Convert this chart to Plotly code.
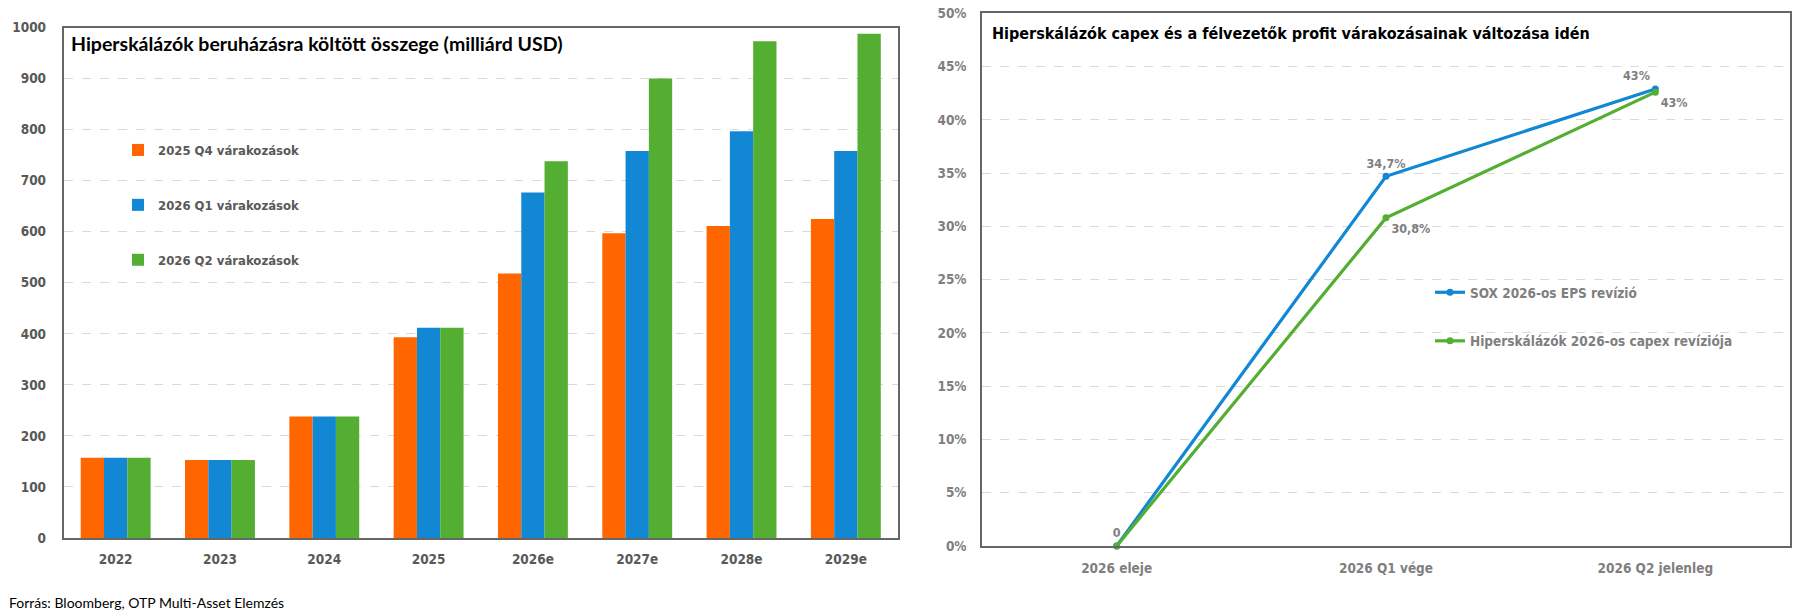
import plotly.graph_objects as go

# ---------------- data ----------------
categories = ["2022", "2023", "2024", "2025", "2026e", "2027e", "2028e", "2029e"]
exp_2025_q4 = [157, 153, 238, 393, 518, 597, 611, 625]
exp_2026_q1 = [157, 153, 238, 412, 677, 758, 797, 758]
exp_2026_q2 = [157, 153, 238, 412, 738, 900, 973, 988]
bar_names = ["2025 Q4 várakozások", "2026 Q1 várakozások", "2026 Q2 várakozások"]

line_categories = ["2026 eleje", "2026 Q1 vége", "2026 Q2 jelenleg"]
sox_eps_rev = [0, 34.7, 42.9]
capex_rev = [0, 30.8, 42.6]
sox_labels = ["0", "34,7%", "43%"]
capex_labels = ["", "30,8%", "43%"]
line_names = ["SOX 2026-os EPS revízió", "Hiperskálázók 2026-os capex revíziója"]

pct_ticks = [0, 5, 10, 15, 20, 25, 30, 35, 40, 45, 50]
pct_ticktext = [f"{v}%" for v in pct_ticks]

# ---------------- style ----------------
W, H = 1801, 612
ORANGE, BLUE, GREEN = "#FF6600", "#1287D4", "#53AE32"
GREY = "#595959"
LIGHT_GREY = "#7F7F7F"
NARROW = "Liberation Sans Narrow, DejaVu Sans Condensed, Arial Narrow, Roboto, sans-serif"
TITLE_FONT = "Lato, Open Sans, sans-serif"


def px_x(p):
    return p / W


def px_y(p):
    return (H - p) / H


fig = go.Figure()

for name, vals, col, grp in zip(bar_names, [exp_2025_q4, exp_2026_q1, exp_2026_q2],
                                [ORANGE, BLUE, GREEN], ["a", "b", "c"]):
    fig.add_trace(go.Bar(x=categories, y=vals, name=name, marker_color=col,
                         marker_line_width=0, xaxis="x", yaxis="y",
                         legend="legend", legendgroup=grp))

for name, vals, txt, col, pos, grp in zip(
        line_names, [sox_eps_rev, capex_rev], [sox_labels, capex_labels],
        [BLUE, GREEN],
        [["top center", "top center", "top left"],
         ["bottom center", "bottom right", "bottom right"]],
        ["d", "e"]):
    fig.add_trace(go.Scatter(x=line_categories, y=vals, name=name,
                             mode="lines+markers+text", text=txt, textposition=pos,
                             textfont=dict(family=NARROW, size=12.5, color=LIGHT_GREY,
                                           weight="bold"),
                             line=dict(color=col, width=3.2),
                             marker=dict(color=col, size=7),
                             xaxis="x2", yaxis="y2", legend="legend2",
                             legendgroup=grp, cliponaxis=False))

axis_common = dict(showline=True, linecolor="#666666", linewidth=1.5, mirror=True,
                   ticks="", zeroline=False, automargin=False)
left_tick = dict(family=NARROW, size=13.5, color=GREY, weight="bold")
right_tick = dict(family=NARROW, size=13.5, color=LIGHT_GREY, weight="bold")

fig.update_layout(
    width=W, height=H,
    margin=dict(l=0, r=0, t=0, b=0, pad=0),
    paper_bgcolor="white", plot_bgcolor="white",
    barmode="group", bargap=0.33, bargroupgap=0,
    xaxis=dict(domain=[px_x(63.5), px_x(898)], showgrid=False,
               ticklabelstandoff=8, tickfont=left_tick, **axis_common),
    yaxis=dict(domain=[px_y(538), px_y(27.5)], range=[0, 1000], dtick=100,
               showgrid=True, gridcolor="#d9d9d9", griddash="dash", gridwidth=1,
               ticklabelstandoff=13, tickfont=left_tick, **axis_common),
    xaxis2=dict(domain=[px_x(982), px_x(1790)], range=[-0.5, 2.5], showgrid=False,
                anchor="y2", ticklabelstandoff=9, tickfont=right_tick, **axis_common),
    yaxis2=dict(domain=[px_y(546), px_y(13.3)], range=[0, 50], anchor="x2",
                tickvals=pct_ticks, ticktext=pct_ticktext,
                showgrid=True, gridcolor="#d9d9d9", griddash="dash", gridwidth=1,
                ticklabelstandoff=11, tickfont=right_tick, **axis_common),
    legend=dict(x=px_x(118), y=px_y(135), xanchor="left", yanchor="top",
                bgcolor="rgba(0,0,0,0)", tracegroupgap=35, itemwidth=30,
                font=dict(family=NARROW, size=13, color=GREY, weight="bold")),
    legend2=dict(x=px_x(1430), y=px_y(277), xanchor="left", yanchor="top",
                 bgcolor="rgba(0,0,0,0)", tracegroupgap=28, itemwidth=30,
                 font=dict(family=NARROW, size=13.5, color=LIGHT_GREY, weight="bold")),
    showlegend=True,
)

fig.add_annotation(text="<b>Hiperskálázók beruházásra költött összege (milliárd USD)</b>",
                   x=px_x(69), y=px_y(44), xref="paper", yref="paper",
                   xanchor="left", yanchor="middle", showarrow=False,
                   font=dict(family=TITLE_FONT, size=19.5, color="black"))
fig.add_annotation(text="<b>Hiperskálázók capex és a félvezetők profit várakozásainak változása idén</b>",
                   x=px_x(990), y=px_y(33), xref="paper", yref="paper",
                   xanchor="left", yanchor="middle", showarrow=False,
                   font=dict(family=NARROW, size=16, color="black"))
fig.add_annotation(text="Forrás: Bloomberg, OTP Multi-Asset Elemzés",
                   x=px_x(7), y=px_y(602), xref="paper", yref="paper",
                   xanchor="left", yanchor="middle", showarrow=False,
                   font=dict(family=TITLE_FONT, size=14, color="black"))

fig.write_html("out.html")
